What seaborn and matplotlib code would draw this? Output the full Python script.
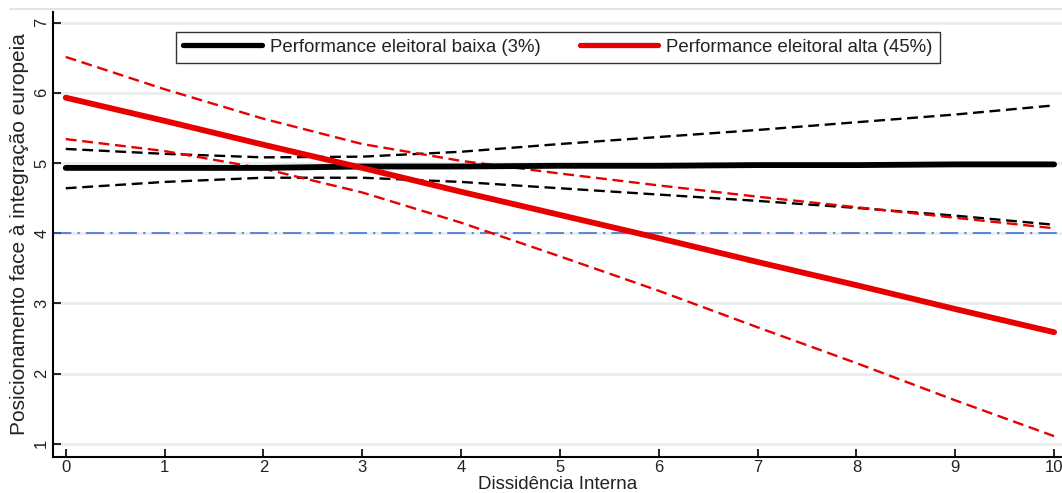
import matplotlib
matplotlib.use("Agg")
import matplotlib.pyplot as plt
from matplotlib.lines import Line2D
import seaborn as sns
import pandas as pd

# ---- data ----
dissidencia = [0, 1, 2, 3, 4, 5, 6, 7, 8, 9, 10]
baixa_media = [4.93, 4.93, 4.93, 4.95, 4.95, 4.96, 4.96, 4.97, 4.97, 4.98, 4.98]
baixa_sup = [5.20, 5.13, 5.08, 5.09, 5.16, 5.27, 5.37, 5.47, 5.58, 5.69, 5.82]
baixa_inf = [4.64, 4.73, 4.79, 4.79, 4.73, 4.64, 4.55, 4.46, 4.36, 4.25, 4.12]
alta_media = [5.93, 5.60, 5.26, 4.93, 4.59, 4.26, 3.93, 3.59, 3.26, 2.92, 2.59]
alta_sup = [6.51, 6.05, 5.63, 5.27, 5.03, 4.85, 4.68, 4.52, 4.37, 4.22, 4.07]
alta_inf = [5.34, 5.17, 4.92, 4.58, 4.15, 3.67, 3.18, 2.66, 2.15, 1.62, 1.11]
referencia = 4
yticks = [1, 2, 3, 4, 5, 6, 7]
xticks = [0, 1, 2, 3, 4, 5, 6, 7, 8, 9, 10]
legenda = ["Performance eleitoral baixa (3%)", "Performance eleitoral alta (45%)"]
xlabel = "Dissidência Interna"
ylabel = "Posicionamento face à integração europeia"

sns.set_theme(style="white")
plt.rcParams["font.family"] = ["Liberation Sans", "DejaVu Sans"]

df = pd.DataFrame({
    "x": dissidencia,
    "baixa_media": baixa_media, "baixa_sup": baixa_sup, "baixa_inf": baixa_inf,
    "alta_media": alta_media, "alta_sup": alta_sup, "alta_inf": alta_inf,
})

W, H = 1062, 493
fig = plt.figure(figsize=(W / 100, H / 100), dpi=100)
ax = fig.add_axes([53.3 / W, 1 - 457 / H, (W - 53.3) / W, (457 - 12) / H])

# grid lines
for yv in yticks:
    ax.axhline(yv, color="#e8eef0", lw=2.0, zorder=0)

# reference line
ax.axhline(referencia, color="#3568cc", lw=1.1, linestyle=(0, (12, 4, 1.5, 4)), zorder=1)

RED = "#e60000"
BLACK = "#000000"
dash = (0, (4.6, 2.4))

sns.lineplot(data=df, x="x", y="baixa_sup", ax=ax, color=BLACK, lw=1.7, linestyle=dash, zorder=3)
sns.lineplot(data=df, x="x", y="baixa_inf", ax=ax, color=BLACK, lw=1.7, linestyle=dash, zorder=3)
sns.lineplot(data=df, x="x", y="alta_sup", ax=ax, color=RED, lw=1.7, linestyle=dash, zorder=3)
sns.lineplot(data=df, x="x", y="alta_inf", ax=ax, color=RED, lw=1.7, linestyle=dash, zorder=3)
sns.lineplot(data=df, x="x", y="baixa_media", ax=ax, color=BLACK, lw=4.2, zorder=4)
sns.lineplot(data=df, x="x", y="alta_media", ax=ax, color=RED, lw=4.2, zorder=4)

ax.set_xlim(-0.126, 10.08)
ax.set_ylim(0.813, 7.15)
ax.set_xticks(xticks)
ax.set_yticks(yticks)
ax.set_xticklabels([str(v) for v in xticks])
ax.set_yticklabels([str(v) for v in yticks], rotation=90, va="center")

for s in ["top", "right"]:
    ax.spines[s].set_visible(False)
for s in ["left", "bottom"]:
    ax.spines[s].set_color("black")
    ax.spines[s].set_linewidth(1.5)

ax.tick_params(axis="both", direction="in", length=6, width=1.2, color="black",
               labelsize=12, labelcolor="#222222", left=True, bottom=True)
ax.tick_params(axis="y", pad=3)
ax.tick_params(axis="x", pad=2)

ax.set_xlabel(xlabel, fontsize=13.5, color="#222222", labelpad=1)
ax.set_ylabel(ylabel, fontsize=15, color="#222222", labelpad=4)

handles = [Line2D([], [], color=BLACK, lw=3.8), Line2D([], [], color=RED, lw=3.8)]
leg = ax.legend(handles, legenda, loc="center", ncol=2,
                bbox_to_anchor=(558 / W, 1 - 47.5 / H), bbox_transform=fig.transFigure,
                fontsize=13.4, handlelength=4.2, handletextpad=0.45, columnspacing=2.1,
                frameon=True, fancybox=False, borderpad=0.4)
leg.get_frame().set_edgecolor("black")
leg.get_frame().set_linewidth(1.0)
for t in leg.get_texts():
    t.set_color("#222222")

# faint top border of the plot region
fig.add_artist(Line2D([10 / W, 1.0], [1 - 9 / H, 1 - 9 / H], transform=fig.transFigure,
                      color="#e4e4e4", lw=1.5))

fig.savefig("out.png", dpi=100)
